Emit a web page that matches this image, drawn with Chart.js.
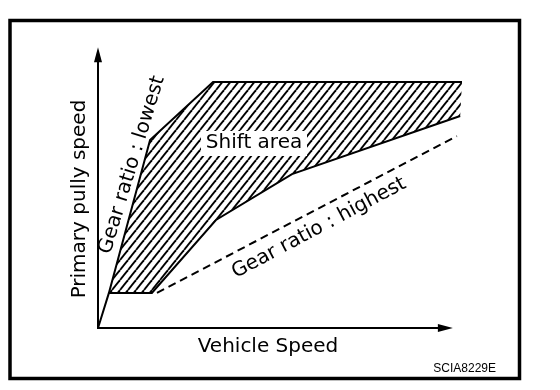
<!DOCTYPE html>
<html>
<head>
<meta charset="utf-8">
<script src="https://cdn.jsdelivr.net/npm/chart.js@4/dist/chart.umd.min.js"></script>
<style>
  html, body { margin: 0; padding: 0; background: #fff; }
  canvas { display: block; }
</style>
</head>
<body>
<canvas id="shiftChart" width="560" height="390"></canvas>
<script>
// Shift area chart: vehicle speed vs primary pulley speed
// values in relative units (0..100) on both axes

const lowestX = [0, 3, 14.3, 31.6, 100];
const lowestY = [0, 13, 69.6, 91.1, 91.1];

const lowerX = [3, 14.8, 32.4, 53.3, 99.5];
const lowerY = [13, 13, 40, 57, 78.5];

const highestX = [16.2, 98.6];
const highestY = [13, 71.1];

const xTitle = 'Vehicle Speed';
const yTitle = 'Primary pully speed';
const areaLabel = 'Shift area';
const lowLabel = 'Gear ratio : lowest';
const highLabel = 'Gear ratio : highest';
const figId = 'SCIA8229E';

const toPoints = (xs, ys) => xs.map((x, i) => ({ x: x, y: ys[i] }));

// shift area = lowest line (from kink) + lower boundary back
const areaPoints = toPoints(lowestX.slice(1), lowestY.slice(1))
    .concat(toPoints(lowerX, lowerY).reverse());

// hatch pattern
function makeHatch() {
    const pc = document.createElement('canvas');
    pc.width = 8;
    pc.height = 10;
    const p = pc.getContext('2d');
    p.strokeStyle = '#000';
    p.lineWidth = 1.9;
    for (const dx of [-8, 0, 8]) {
        p.beginPath();
        p.moveTo(dx, 10);
        p.lineTo(dx + 8, 0);
        p.stroke();
    }
    return p.createPattern(pc, 'repeat');
}

// frame, axes with arrows and all texts
const decorPlugin = {
    id: 'decor',
    beforeDraw(chart) {
        const ctx = chart.ctx;
        ctx.save();
        ctx.fillStyle = '#fff';
        ctx.fillRect(0, 0, chart.width, chart.height);
        ctx.restore();
    },
    afterDraw(chart) {
        const ctx = chart.ctx;
        const xs = chart.scales.x, ys = chart.scales.y;
        const x0 = xs.getPixelForValue(0), y0 = ys.getPixelForValue(0);
        const xEnd = xs.getPixelForValue(97.5);
        const yEnd = ys.getPixelForValue(104);

        ctx.save();
        ctx.strokeStyle = '#000';
        ctx.fillStyle = '#000';

        // outer frame
        ctx.lineWidth = 3.5;
        ctx.strokeRect(10, 20.5, 509.5, 358);

        // axes
        ctx.lineWidth = 2;
        ctx.beginPath();
        ctx.moveTo(x0, yEnd + 10);
        ctx.lineTo(x0, y0);
        ctx.lineTo(xEnd - 10, y0);
        ctx.stroke();
        // arrow heads
        ctx.beginPath();
        ctx.moveTo(x0, yEnd);
        ctx.lineTo(x0 - 4, yEnd + 15);
        ctx.lineTo(x0 + 4, yEnd + 15);
        ctx.closePath();
        ctx.fill();
        ctx.beginPath();
        ctx.moveTo(xEnd, y0);
        ctx.lineTo(xEnd - 15, y0 - 4);
        ctx.lineTo(xEnd - 15, y0 + 4);
        ctx.closePath();
        ctx.fill();

        ctx.font = '20px "DejaVu Sans", sans-serif';
        ctx.textAlign = 'center';
        ctx.textBaseline = 'middle';

        // Shift area label on white box
        ctx.fillStyle = '#fff';
        ctx.fillRect(201, 131, 106, 25);
        ctx.fillStyle = '#000';
        ctx.fillText(areaLabel, 254, 143);

        // axis titles
        ctx.fillText(xTitle, 268, 347);
        ctx.save();
        ctx.translate(80, 199);
        ctx.rotate(-Math.PI / 2);
        ctx.fillText(yTitle, 0, 0);
        ctx.restore();

        // gear ratio labels
        ctx.save();
        ctx.translate(132, 165);
        ctx.rotate(-73 * Math.PI / 180);
        ctx.fillText(lowLabel, 0, 0);
        ctx.restore();

        ctx.save();
        ctx.translate(319, 228);
        ctx.rotate(-28 * Math.PI / 180);
        ctx.fillText(highLabel, 0, 0);
        ctx.restore();

        // figure id
        ctx.font = '12px "Liberation Sans", Arial, sans-serif';
        ctx.textAlign = 'right';
        ctx.fillText(figId, 496, 369);

        ctx.restore();
    }
};

const ctx = document.getElementById('shiftChart').getContext('2d');

new Chart(ctx, {
    type: 'scatter',
    data: {
        datasets: [
            {
                label: 'area',
                data: areaPoints,
                showLine: true,
                fill: 'shape',
                backgroundColor: makeHatch(),
                borderWidth: 0,
                pointRadius: 0
            },
            {
                label: 'lowest',
                data: toPoints(lowestX, lowestY),
                showLine: true,
                borderColor: '#000',
                borderWidth: 2,
                pointRadius: 0
            },
            {
                label: 'lower',
                data: toPoints(lowerX, lowerY),
                showLine: true,
                borderColor: '#000',
                borderWidth: 2,
                pointRadius: 0
            },
            {
                label: 'highest',
                data: toPoints(highestX, highestY),
                showLine: true,
                borderColor: '#000',
                borderWidth: 2,
                borderDash: [8, 5],
                pointRadius: 0
            }
        ]
    },
    options: {
        responsive: false,
        animation: false,
        devicePixelRatio: 1,
        layout: { padding: { left: 98, top: 58, right: 98, bottom: 62 } },
        scales: {
            x: { type: 'linear', min: 0, max: 100, display: false },
            y: { type: 'linear', min: 0, max: 100, display: false }
        },
        plugins: {
            legend: { display: false },
            tooltip: { enabled: false }
        }
    },
    plugins: [decorPlugin]
});
</script>
</body>
</html>
